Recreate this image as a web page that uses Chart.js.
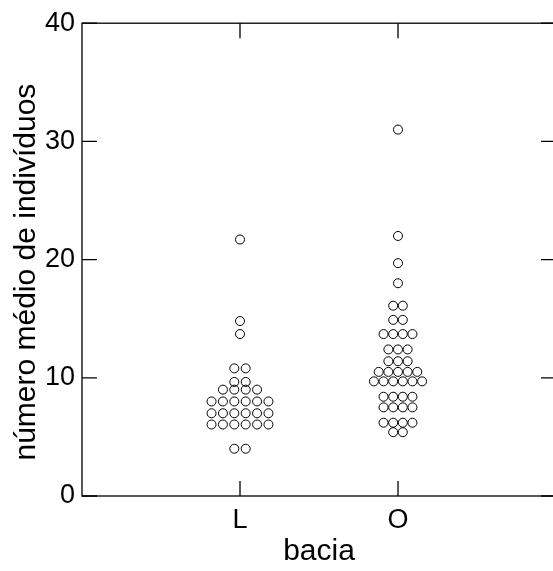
<!DOCTYPE html>
<html>
<head>
<meta charset="utf-8">
<script src="https://cdn.jsdelivr.net/npm/chart.js@4"></script>
<style>
html,body{margin:0;padding:0;background:#fff;overflow:hidden;}
</style>
</head>
<body>
<canvas id="graph" width="570" height="571"></canvas>
<script>
// categories and values
const groups = ['L', 'O'];
const valuesL = [21.7, 14.8, 13.7, 10.8, 10.8, 9.65, 9.65, 9.0, 9.0, 9.0, 9.0,
    8.0, 8.0, 8.0, 8.0, 8.0, 8.0,
    7.0, 7.0, 7.0, 7.0, 7.0, 7.0,
    6.05, 6.05, 6.05, 6.05, 6.05, 6.05,
    4.0, 4.0];
const valuesO = [31.0, 22.0, 19.7, 18.0, 16.1, 16.1, 14.9, 14.9,
    13.7, 13.7, 13.7, 13.7,
    12.4, 12.4, 12.4,
    11.4, 11.4, 11.4,
    10.5, 10.5, 10.5, 10.5, 10.5,
    9.7, 9.7, 9.7, 9.7, 9.7, 9.7,
    8.4, 8.4, 8.4, 8.4,
    7.5, 7.5, 7.5, 7.5,
    6.2, 6.2, 6.2, 6.2,
    5.4, 5.4];
const yTicks = [0, 10, 20, 30, 40];

// horizontal gap between dots of one row (x units)
const gaps = [0.072, 0.061];
const tick = 15;

// spread equal values side by side, centred on the category
const swarm = (values, center, gap) => {
    const rows = {};
    values.forEach(v => { (rows[v] = rows[v] || []).push(v); });
    const pts = [];
    Object.keys(rows).forEach(k => {
        const n = rows[k].length;
        rows[k].forEach((v, i) => {
            pts.push({x: center + (i - (n - 1) / 2) * gap, y: v});
        });
    });
    return pts;
};

const dotStyle = {
    pointStyle: 'circle',
    pointRadius: 4.5,
    pointHoverRadius: 4.5,
    pointBorderWidth: 1,
    borderColor: '#000',
    backgroundColor: 'rgba(255,255,255,0)',
    showLine: false
};

const framePlugin = {
    id: 'frame',
    afterDraw(chart) {
        const ctx = chart.ctx;
        const a = chart.chartArea;
        const x = chart.scales.x, y = chart.scales.y;
        ctx.save();
        ctx.strokeStyle = '#000';
        ctx.lineWidth = 1.3;
        ctx.strokeRect(a.left, a.top, a.right - a.left, a.bottom - a.top);
        ctx.beginPath();
        yTicks.forEach(v => {
            const py = y.getPixelForValue(v);
            ctx.moveTo(a.left, py); ctx.lineTo(a.left + tick, py);
            ctx.moveTo(a.right, py); ctx.lineTo(a.right - tick, py);
        });
        groups.forEach((g, i) => {
            const px = x.getPixelForValue(i + 1);
            ctx.moveTo(px, a.bottom); ctx.lineTo(px, a.bottom - tick);
            ctx.moveTo(px, a.top); ctx.lineTo(px, a.top + tick);
        });
        ctx.stroke();
        ctx.restore();
    }
};

const font = 'Liberation Sans, Arial, sans-serif';

const myChart = new Chart(document.getElementById('graph').getContext('2d'), {
    type: 'scatter',
    data: {
        datasets: [
            Object.assign({label: groups[0], data: swarm(valuesL, 1, gaps[0])}, dotStyle),
            Object.assign({label: groups[1], data: swarm(valuesO, 2, gaps[1])}, dotStyle)
        ]
    },
    options: {
        responsive: false,
        animation: false,
        devicePixelRatio: 1,
        layout: {padding: {top: 21, right: 14, left: 0, bottom: 0}},
        plugins: {legend: {display: false}, tooltip: {enabled: false}},
        scales: {
            x: {
                type: 'linear',
                min: 0,
                max: 3,
                afterBuildTicks: (s) => { s.ticks = groups.map((g, i) => ({value: i + 1})); },
                afterFit: (s) => { s.height = 75; },
                grid: {display: false, drawTicks: false},
                border: {display: false},
                ticks: {
                    color: '#000',
                    font: {family: font, size: 27},
                    padding: 8,
                    maxRotation: 0,
                    callback: (v) => groups[v - 1]
                },
                title: {
                    display: true,
                    text: 'bacia',
                    color: '#000',
                    font: {family: font, size: 30},
                    padding: {top: 0, bottom: 1}
                }
            },
            y: {
                min: 0,
                max: 40,
                afterBuildTicks: (s) => { s.ticks = yTicks.map(v => ({value: v})); },
                afterFit: (s) => { s.width = 82; },
                grid: {display: false, drawTicks: false},
                border: {display: false},
                ticks: {
                    color: '#000',
                    font: {family: font, size: 27},
                    padding: 7
                },
                title: {
                    display: true,
                    text: 'número médio de indivíduos\u00A0\u00A0\u00A0',
                    color: '#000',
                    font: {family: font, size: 30},
                    padding: {top: 9, bottom: 0}
                }
            }
        }
    },
    plugins: [framePlugin]
});
</script>
</body>
</html>
